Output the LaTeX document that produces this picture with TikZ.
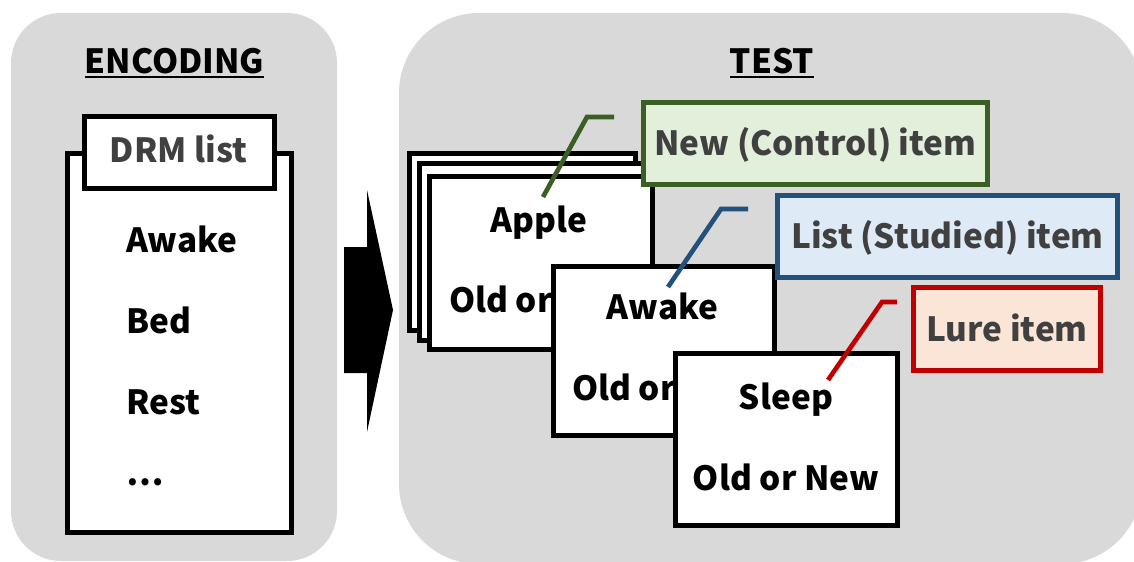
\documentclass[tikz,border=0pt]{standalone}
\usepackage{fontspec}
\setmainfont{Noto Sans CJK JP}
\definecolor{panelgray}{HTML}{D9D9D9}
\definecolor{labeltext}{HTML}{404040}
\definecolor{ctrlline}{HTML}{3B5E25}
\definecolor{ctrlfill}{HTML}{E2EFDA}
\definecolor{studline}{HTML}{24507C}
\definecolor{studfill}{HTML}{DEEBF7}
\definecolor{lureline}{HTML}{C00000}
\definecolor{lurefill}{HTML}{FBE5D6}

% rectangle node given by the corners of its stroke centre line
\newcommand\rectnode[6]{%
  \node[#6, minimum width={(#4-#2)*0.75pt}, minimum height={(#5-#3)*0.75pt}]
    (#1) at ({(#2+#4)/2},{(#3+#5)/2}) {};}
\newcommand\labelnode[7]{%
  \node[#6, minimum width={(#4-#2)*0.75pt}, minimum height={(#5-#3)*0.75pt}]
    (#1) at ({(#2+#4)/2},{(#3+#5)/2}) {#7};}

\begin{document}
\begin{tikzpicture}[x=0.75pt, y=-0.75pt,
  every node/.style={inner sep=0pt, outer sep=0pt},
  txt/.style={font=\fontsize{25pt}{30pt}\selectfont\bfseries, anchor=base},
  card/.style={draw=black, fill=white, line width=3.75pt},
  tagbox/.style={line width=3.5pt, font=\fontsize{25pt}{30pt}\selectfont\bfseries,
    text=labeltext, text height=18.4pt, text depth=0pt},
  leader/.style={line width=3.5pt}]
\useasboundingbox (0,0) rectangle (1134,561);
\clip (0,0) rectangle (1134,561);

% the two phase panels
\fill[panelgray, rounded corners=37.5pt] (11,13) rectangle (337,561);
\fill[panelgray, rounded corners=60pt] (399,13) rectangle (1142,564);

\node[txt] (enc) at (174.5,73) {ENCODING};
\draw[line width=1.6pt] ([yshift=-3pt]enc.base west) -- ([yshift=-3pt]enc.base east);
\node[txt] (test) at (772,73) {TEST};
\draw[line width=1.6pt] ([yshift=-3pt]test.base west) -- ([yshift=-3pt]test.base east);

% study list
\rectnode{list}{67}{153}{291}{532}{card}
\rectnode{tab}{84}{116}{274}{188}{card}
\node[txt, text=labeltext] (drm) at (178.5,162) {DRM list};
\node[txt, anchor=base west] (w1) at (126,252) {Awake};
\node[txt, anchor=base west] (w2) at (126,333) {Bed};
\node[txt, anchor=base west] (w3) at (126,414) {Rest};
\node[txt, anchor=base west] (w4) at (126,485) {…};

% phase arrow
\fill (344,247) -- (367,247) -- (367,190) -- (393,310) -- (367,432)
  -- (367,373) -- (344,373) -- cycle;

% test cards: new (control) item
\rectnode{c1}{409}{153}{635}{330}{card}
\rectnode{c2}{419}{163}{644}{340}{card}
\rectnode{c3}{429}{176}{652}{349}{card}
\node[txt] (apple) at (539,232) {Apple};
\node[txt, anchor=base west] (q1) at (449,312) {Old or};
\coordinate (g1) at (543,197);
\coordinate (g2) at (587,117);
\coordinate (g3) at (614,117);
\draw[leader, ctrlline] (g1) -- (g2) -- (g3);
\labelnode{ctrl}{643.5}{102.5}{987.5}{184.5}{tagbox, draw=ctrlline, fill=ctrlfill}{New (Control) item}

% studied item
\rectnode{c4}{553}{266}{774}{435}{card}
\node[txt] (awake) at (662.5,319) {Awake};
\node[txt, anchor=base west] (q2) at (572,400) {Old or};
\coordinate (b1) at (668,287);
\coordinate (b2) at (721,209);
\coordinate (b3) at (748,209);
\draw[leader, studline] (b1) -- (b2) -- (b3);
\labelnode{stud}{777.5}{195.5}{1117.5}{277.5}{tagbox, draw=studline, fill=studfill}{List (Studied) item}

% lure item
\rectnode{c5}{675}{353}{897}{525}{card}
\node[txt] (sleep) at (786,409) {Sleep};
\node[txt] (q3) at (786,490) {Old or New};
\coordinate (r1) at (828,380);
\coordinate (r2) at (882,302);
\coordinate (r3) at (897,302);
\draw[leader, lureline] (r1) -- (r2) -- (r3);
\labelnode{lure}{913.5}{287.5}{1100.5}{370.5}{tagbox, draw=lureline, fill=lurefill}{Lure item}
\end{tikzpicture}
\end{document}
